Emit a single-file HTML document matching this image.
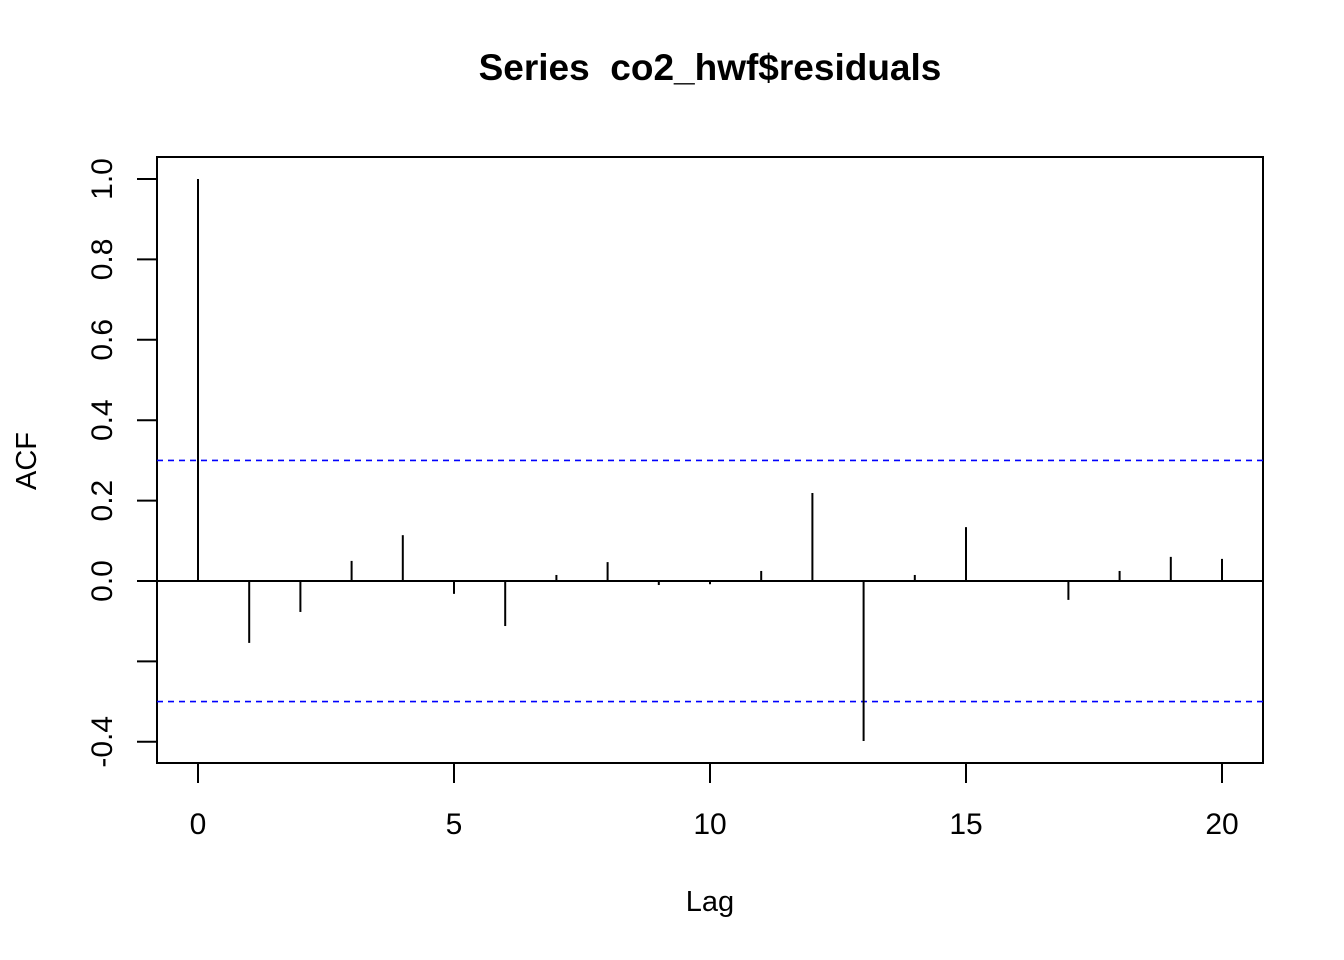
<!DOCTYPE html>
<html>
<head>
<meta charset="utf-8">
<style>
html,body{margin:0;padding:0;background:#fff;}
svg{display:block;font-family:"Liberation Sans",Arial,sans-serif;}
</style>
</head>
<body>
<svg id="chart" width="1344" height="960" viewBox="0 0 1344 960">
  <rect width="1344" height="960" fill="#fff"/>
  <text x="710" y="80" text-anchor="middle" font-size="37" font-weight="bold">Series &#160;co2_hwf$residuals</text>
  <rect x="157" y="157" width="1106" height="606" fill="none" stroke="#000" stroke-width="2"/>
  <text x="710" y="911" text-anchor="middle" font-size="29">Lag</text>
  <text transform="translate(36,461) rotate(-90)" text-anchor="middle" font-size="29">ACF</text>
  <g id="marks"></g>
</svg>
<script>
const lags = [0,1,2,3,4,5,6,7,8,9,10,11,12,13,14,15,16,17,18,19,20];
const acfValues = [1.0,-0.154,-0.077,0.050,0.114,-0.032,-0.112,0.015,0.047,-0.010,-0.008,0.025,0.219,-0.398,0.015,0.134,0.002,-0.047,0.025,0.060,0.055];
const xTicks = [0,5,10,15,20];
const yTicks = [-0.4,-0.2,0.0,0.2,0.4,0.6,0.8,1.0];
const yTickLabels = ["-0.4","","0.0","0.2","0.4","0.6","0.8","1.0"];
const ciBound = 0.3;

const NS = "http://www.w3.org/2000/svg";
const g = document.getElementById("marks");
function xs(v){ return 198 + v * 51.2; }
function ys(v){ return 581 - v * 402; }
function mk(tag, attrs){
  const el = document.createElementNS(NS, tag);
  for (const k in attrs) el.setAttribute(k, attrs[k]);
  g.appendChild(el);
  return el;
}
xTicks.forEach(function(t){
  const l = mk("line",{x1:xs(t),x2:xs(t),y1:763,y2:783,stroke:"#000","stroke-width":2});
  
  
  const tx = mk("text",{x:xs(t),y:834,"text-anchor":"middle","font-size":30});
  tx.textContent = t;
  
  
});
yTicks.forEach(function(t,i){
  const l = mk("line",{x1:137,x2:157,y1:ys(t),y2:ys(t),stroke:"#000","stroke-width":2});
  
  
  if (yTickLabels[i]) {
    const tx = mk("text",{transform:"translate(112,"+ys(t)+") rotate(-90)","text-anchor":"middle","font-size":30});
    tx.textContent = yTickLabels[i];
    
    
  }
});
const z = mk("line",{x1:157,x2:1263,y1:ys(0),y2:ys(0),stroke:"#000","stroke-width":2});


[ciBound,-ciBound].forEach(function(b){
  const l = mk("line",{x1:157,x2:1263,y1:ys(b),y2:ys(b),stroke:"#0000ff","stroke-width":1.6,"stroke-dasharray":"6,5"});
  
  
});
lags.forEach(function(lag,i){
  const l = mk("line",{x1:xs(lag),x2:xs(lag),y1:ys(0),y2:ys(acfValues[i]),stroke:"#000","stroke-width":2});
  
  
});
</script>
</body>
</html>
